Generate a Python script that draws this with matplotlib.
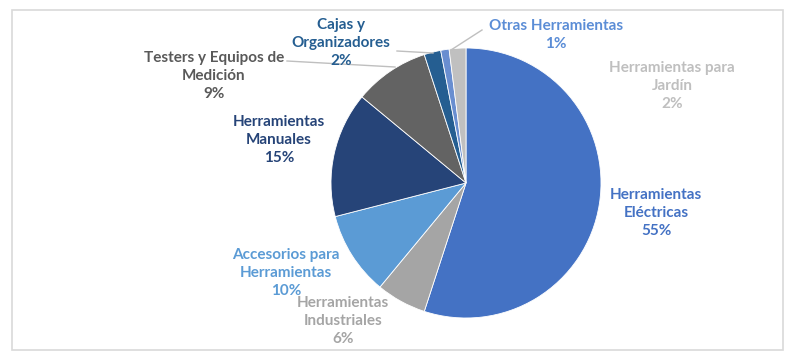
import matplotlib.pyplot as plt
from matplotlib.patches import Rectangle

# datos
categorias = ['Herramientas\nEléctricas', 'Herramientas\nIndustriales',
              'Accesorios para\nHerramientas', 'Herramientas\nManuales',
              'Testers y Equipos de\nMedición', 'Cajas y\nOrganizadores',
              'Otras Herramientas', 'Herramientas para\nJardín']
valores = [55, 6, 10, 15, 9, 2, 1, 2]
colores = ['#4472C4', '#A5A5A5', '#5B9BD5', '#264478',
           '#636363', '#255E91', '#698ED0', '#C0C0C0']
colores_texto = ['#4472C4', '#A5A5A5', '#5B9BD5', '#264478',
                 '#595959', '#255E91', '#5B8DD6', '#BFBFBF']

# posiciones de etiquetas en pixeles (x, y desde arriba)
pos_etiquetas = [(656, 213), (343, 321), (286, 273), (279, 140),
                 (214, 76), (341, 43), (556, 35), (672, 86)]

W, H = 800, 360
fig = plt.figure(figsize=(8, 3.6), dpi=100)
ax = fig.add_axes([0, 0, 1, 1])

ax.add_patch(Rectangle((12, H - 350), 771, 340, fill=False,
                       edgecolor='#D9D9D9', linewidth=1.2))

cx, cy, r = 466, H - 183, 135
ax.pie(valores, colors=colores, startangle=90, counterclock=False,
       center=(cx, cy), radius=r, frame=True,
       wedgeprops=dict(edgecolor='white', linewidth=0.6))
ax.set_xlim(0, W)
ax.set_ylim(0, H)
ax.set_aspect('equal')
ax.axis('off')

# lineas guia
guias = [((287, 61), (395, 67)),
         ((397, 51), (433, 53)),
         ((482, 30), (451, 50))]
for (x0, y0), (x1, y1) in guias:
    ax.plot([x0, x1], [H - y0, H - y1], color='#BFBFBF', linewidth=1)

for cat, v, col, (x, y) in zip(categorias, valores, colores_texto, pos_etiquetas):
    ax.text(x, H - y, f'{cat}\n{v}%', ha='center', va='center',
            color=col, fontsize=11, fontweight='bold', family='Lato',
            linespacing=1.38)

fig.savefig('out.png', dpi=100, facecolor='white')
